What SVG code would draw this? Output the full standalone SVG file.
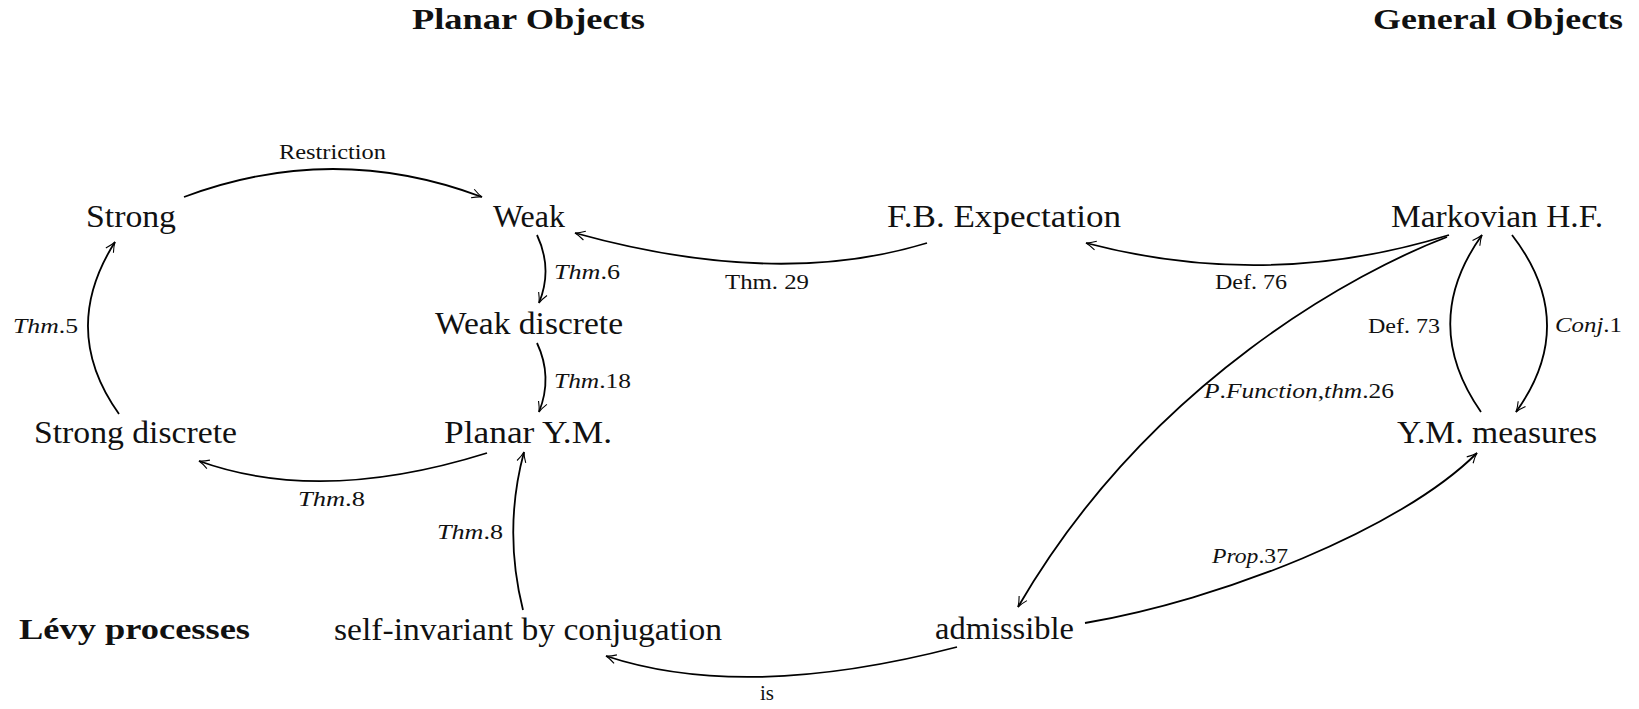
<svg xmlns="http://www.w3.org/2000/svg" width="1639" height="709" viewBox="0 0 1639 709">
<style>
text{font-family:"Liberation Serif","Times New Roman",serif;fill:#111}
.node{font-size:31px}
.title{font-size:29px;font-weight:bold}
.lbl{font-size:21px}
.it{font-style:italic}
.edge{fill:none;stroke:#000;stroke-width:1.8;marker-end:url(#arr)}
</style>
<defs>
<marker id="arr" markerUnits="userSpaceOnUse" viewBox="-11 -6 12 12" refX="0" refY="0" markerWidth="12" markerHeight="12" orient="auto" overflow="visible">
<path d="M-10,-4.5 Q-4,-1 0,0 Q-4,1 -10,4.5" fill="none" stroke="#000" stroke-width="1.1"/>
</marker>
</defs>
<rect width="1639" height="709" fill="#fff"/>
<g id="titles">
<text class="title" x="412" y="29" textLength="233" lengthAdjust="spacingAndGlyphs">Planar Objects</text>
<text class="title" x="1373" y="29" textLength="250" lengthAdjust="spacingAndGlyphs">General Objects</text>
<text class="title" x="19" y="639" textLength="231" lengthAdjust="spacingAndGlyphs">Lévy processes</text>
</g>
<g id="n-strong"><text class="node" x="86" y="227" textLength="90" lengthAdjust="spacingAndGlyphs">Strong</text></g>
<g id="n-weak"><text class="node" x="493" y="227" textLength="72" lengthAdjust="spacingAndGlyphs">Weak</text></g>
<g id="n-fb"><text class="node" x="887" y="227" textLength="234" lengthAdjust="spacingAndGlyphs">F.B. Expectation</text></g>
<g id="n-markov"><text class="node" x="1391" y="227" textLength="212" lengthAdjust="spacingAndGlyphs">Markovian H.F.</text></g>
<g id="n-weakdisc"><text class="node" x="435" y="334" textLength="188" lengthAdjust="spacingAndGlyphs">Weak discrete</text></g>
<g id="n-strongdisc"><text class="node" x="34" y="443" textLength="203" lengthAdjust="spacingAndGlyphs">Strong discrete</text></g>
<g id="n-planarym"><text class="node" x="444" y="443" textLength="168" lengthAdjust="spacingAndGlyphs">Planar Y.M.</text></g>
<g id="n-ymmeas"><text class="node" x="1397" y="443" textLength="200" lengthAdjust="spacingAndGlyphs">Y.M. measures</text></g>
<g id="n-selfinv"><text class="node" x="334" y="640" textLength="388" lengthAdjust="spacingAndGlyphs">self-invariant by conjugation</text></g>
<g id="n-admiss"><text class="node" x="935" y="639" textLength="139" lengthAdjust="spacingAndGlyphs">admissible</text></g>
<g id="connectors">
<path class="edge" d="M184,197 Q333,141 482,197"/>
<path class="edge" d="M537,235 Q553,269 539,303"/>
<path class="edge" d="M537,343 Q553,377 539,412"/>
<path class="edge" d="M927,243 Q777,289 575,233"/>
<path class="edge" d="M1449,235 Q1268,291 1086,243"/>
<path class="edge" d="M1481,412 Q1419,323 1482,235"/>
<path class="edge" d="M1512,235 Q1580,323 1516,412"/>
<path class="edge" d="M1447,237 C1360,270 1150,380 1018,607"/>
<path class="edge" d="M1085,623 C1220,600 1400,530 1477,453"/>
<path class="edge" d="M957,647 Q745,702 606,656"/>
<path class="edge" d="M523,610 Q503,530 524,452"/>
<path class="edge" d="M487,453 Q321,505 199,461"/>
<path class="edge" d="M119,414 Q59,330 115,242"/>
</g>
<g id="labels">
<text class="lbl" x="279" y="159" textLength="107" lengthAdjust="spacingAndGlyphs">Restriction</text>
<text class="lbl" x="554" y="279" textLength="66" lengthAdjust="spacingAndGlyphs"><tspan class="it">Thm</tspan>.6</text>
<text class="lbl" x="554" y="388" textLength="77" lengthAdjust="spacingAndGlyphs"><tspan class="it">Thm</tspan>.18</text>
<text class="lbl" x="725" y="289" textLength="84" lengthAdjust="spacingAndGlyphs">Thm. 29</text>
<text class="lbl" x="1215" y="289" textLength="72" lengthAdjust="spacingAndGlyphs">Def. 76</text>
<text class="lbl" x="13" y="333" textLength="65" lengthAdjust="spacingAndGlyphs"><tspan class="it">Thm</tspan>.5</text>
<text class="lbl" x="1368" y="333" textLength="72" lengthAdjust="spacingAndGlyphs">Def. 73</text>
<text class="lbl" x="1555" y="332" textLength="67" lengthAdjust="spacingAndGlyphs"><tspan class="it">Conj</tspan>.1</text>
<text class="lbl" x="1204" y="398" textLength="190" lengthAdjust="spacingAndGlyphs"><tspan class="it">P</tspan>.<tspan class="it">Function</tspan>,<tspan class="it">thm</tspan>.26</text>
<text class="lbl" x="298" y="506" textLength="67" lengthAdjust="spacingAndGlyphs"><tspan class="it">Thm</tspan>.8</text>
<text class="lbl" x="437" y="539" textLength="66" lengthAdjust="spacingAndGlyphs"><tspan class="it">Thm</tspan>.8</text>
<text class="lbl" x="1212" y="563" textLength="76" lengthAdjust="spacingAndGlyphs"><tspan class="it">Prop</tspan>.37</text>
<text class="lbl" x="760" y="700" textLength="14" lengthAdjust="spacingAndGlyphs">is</text>
</g>
</svg>
